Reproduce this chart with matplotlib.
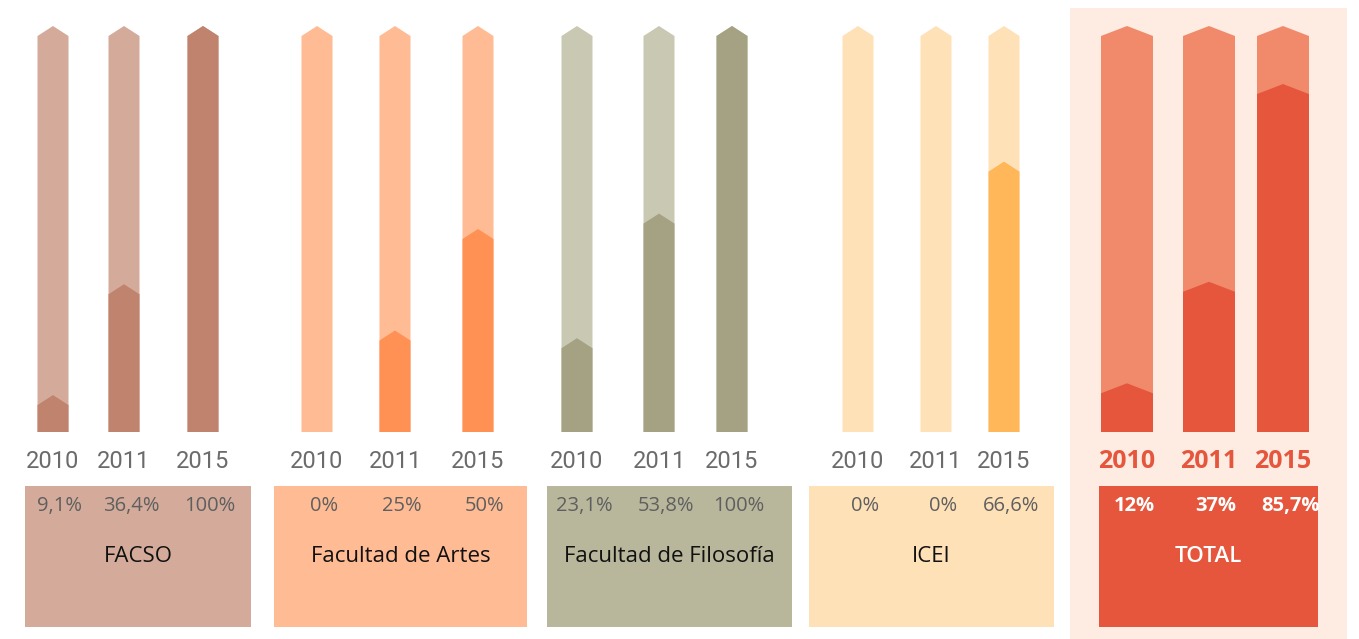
import matplotlib.pyplot as plt
from matplotlib.patches import Polygon, Rectangle

# data
groups = ['FACSO', 'Facultad de Artes', 'Facultad de Filosofía', 'ICEI', 'TOTAL']
years = ['2010', '2011', '2015']
values = [
    [9.1, 36.4, 100],
    [0, 25, 50],
    [23.1, 53.8, 100],
    [0, 0, 66.6],
    [12, 37, 85.7],
]
labels = [
    ['9,1%', '36,4%', '100%'],
    ['0%', '25%', '50%'],
    ['23,1%', '53,8%', '100%'],
    ['0%', '0%', '66,6%'],
    ['12%', '37%', '85,7%'],
]

light = ['#d4ab9a', '#ffbb93', '#c9c8b3', '#ffe1b8', '#f08a6a']
dark = ['#c0836d', '#ff9155', '#a4a283', '#ffb75a', '#e5563d']
box_col = ['#d4ab9a', '#ffbb93', '#b8b79c', '#ffe1b8', '#e5563d']

# layout (pixels)
W, H = 1359, 639
bar_x = [[53, 124, 203], [317, 395, 478], [577, 659, 732], [858, 936, 1004], [1127, 1209, 1283]]
bar_w = [31, 31, 31, 31, 52]
boxes = [(25, 251), (274, 527), (547, 792), (809, 1054), (1099, 1318)]
base_px, top_px = 432, 26
tip_px = 10  # height of the pointed top

fig = plt.figure(figsize=(W / 100, H / 100), dpi=100)

# background axes in pixel units
bg = fig.add_axes([0, 0, 1, 1], zorder=0)
bg.set_xlim(0, W)
bg.set_ylim(H, 0)
bg.axis('off')

bg.add_patch(Rectangle((1070, 8), 277, 640, color='#feebe2', lw=0))

for g in range(5):
    x0, x1 = boxes[g]
    bg.add_patch(Rectangle((x0, 486), x1 - x0, 141, color=box_col[g], lw=0))
    total = g == 4
    for i in range(3):
        if total:
            bg.text(bar_x[g][i], 461, years[i], ha='center', va='center',
                    fontsize=18, fontweight='bold', color='#e5563d', family='Open Sans')
        else:
            bg.text(bar_x[g][i], 461, years[i], ha='center', va='center',
                    fontsize=17, color='#6b6b6b', family='Roboto')
        bg.text(bar_x[g][i] + 7, 506, labels[g][i], ha='center', va='center',
                fontsize=14.5, fontweight='bold' if total else 'normal',
                color='white' if total else '#5f5f5f', family='Open Sans')
    bg.text((x0 + x1) / 2, 557, groups[g], ha='center', va='center', fontsize=16,
            fontweight='semibold' if total else 'normal',
            color='white' if total else '#111111', family='Open Sans')

# bars axes, y in percent
ax = fig.add_axes([0, (H - base_px) / H, 1, (base_px - top_px) / H], zorder=1)
ax.set_xlim(0, W)
ax.set_ylim(0, 100)
ax.axis('off')
ax.patch.set_alpha(0)

tip = tip_px / (base_px - top_px) * 100


def arrow_bar(cx, w, v, color):
    h = w / 2
    pts = [(cx - h, 0), (cx + h, 0), (cx + h, v - tip), (cx, v), (cx - h, v - tip)]
    ax.add_patch(Polygon(pts, closed=True, color=color, lw=0))


for g in range(5):
    for i in range(3):
        arrow_bar(bar_x[g][i], bar_w[g], 100, light[g])
        if values[g][i] > 0:
            arrow_bar(bar_x[g][i], bar_w[g], values[g][i], dark[g])

fig.savefig('out.png', dpi=100)
